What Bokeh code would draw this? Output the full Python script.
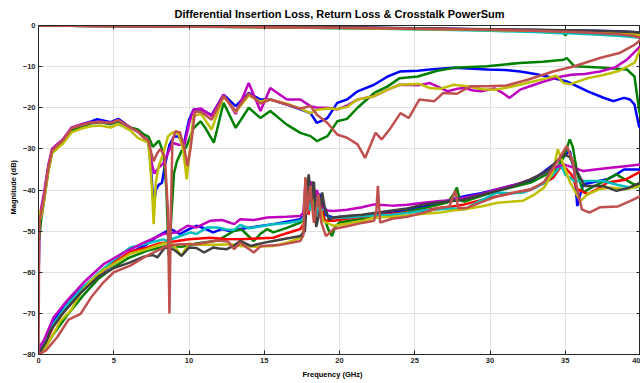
from bokeh.plotting import figure
from bokeh.models import Range1d, LinearAxis, FixedTicker, Title
from bokeh.embed import file_html
from bokeh.resources import INLINE

# ---------------- colours ----------------
C_BLUE = "#0000ff"
C_GREEN = "#008000"
C_RED = "#ff0000"
C_CYAN = "#00bfbf"
C_MAGENTA = "#bf00bf"
C_YELLOW = "#bfbf00"
C_DGRAY = "#404040"
C_IRED = "#c0504d"

x_ticks = [0, 5, 10, 15, 20, 25, 30, 35, 40]
y_ticks = [-80, -70, -60, -50, -40, -30, -20, -10, 0]

# ---------------- insertion loss ----------------
il_freq = [0, 2, 5, 10, 15, 20, 25, 30, 33, 34.8, 35, 35.2, 37, 38.5, 39.5, 40]
il_blue = [0, -0.05, -0.1, -0.2, -0.35, -0.5, -0.7, -0.95, -1.1, -1.2, -1.2, -1.2, -1.3, -1.4, -1.6, -1.8]
il_green = [0, -0.05, -0.12, -0.25, -0.4, -0.6, -0.85, -1.1, -1.3, -1.4, -2.4, -1.5, -1.6, -1.7, -1.9, -2.1]
il_red = [0, -0.05, -0.1, -0.25, -0.4, -0.55, -0.8, -1.0, -1.2, -1.3, -1.3, -1.3, -1.5, -1.7, -2.0, -2.3]
il_cyan = [0, -0.05, -0.12, -0.3, -0.45, -0.65, -0.9, -1.3, -1.6, -1.9, -1.9, -1.9, -2.2, -2.5, -2.8, -3.0]
il_magenta = [0, -0.05, -0.1, -0.2, -0.35, -0.5, -0.75, -1.0, -1.2, -1.3, -1.3, -1.3, -1.5, -1.8, -2.2, -2.6]
il_yellow = [0, -0.05, -0.12, -0.25, -0.45, -0.6, -0.85, -1.1, -1.3, -1.4, -1.4, -1.4, -1.6, -1.8, -2.1, -2.3]
il_dgray = [0, -0.05, -0.1, -0.2, -0.3, -0.45, -0.65, -0.9, -1.05, -1.15, -1.15, -1.15, -1.3, -1.45, -1.6, -1.8]
il_ired = [0, -0.05, -0.12, -0.25, -0.4, -0.55, -0.8, -1.05, -1.3, -1.5, -1.5, -1.5, -1.8, -2.1, -2.5, -3.0]

# ---------------- return loss ----------------
rl_blue_f = [0, 0.05, 0.15, 0.35, 0.65, 0.9, 1.2, 1.6, 2.2, 2.9, 3.5, 3.9, 4.8, 5.3, 6.1, 6.6, 7.0, 7.3,
             7.5, 7.65, 7.8, 8.0, 8.2, 8.4, 8.7, 9.0, 9.3, 9.65, 10.0, 10.3, 10.8, 11.5, 12.3, 13.1, 13.97,
             14.75, 15.4, 16.5, 17.4, 18.07, 18.5, 19.2, 19.85, 20.5, 21.2, 22.3, 23.2, 24.0, 25.2, 26.0,
             27.6, 29.8, 31.0, 32.0, 33.0, 33.8, 35.1, 35.8, 36.5, 37.5, 38.2, 38.9, 39.3, 39.6, 39.9, 40]
rl_blue_db = [-64, -50, -46, -42, -34.6, -30.5, -29.3, -28, -25, -24, -23.3, -22.8, -23.5, -22.7, -24.8, -25.8, -27.2, -28,
              -36, -44, -40, -38.7, -38.3, -34, -29, -27, -27, -28.9, -23, -20.4, -20.4, -21.8, -16.8, -19.6, -16.4,
              -18, -18, -19.2, -20.4, -21.3, -23.7, -22.5, -18.8, -18, -16, -14.4, -12.4, -11.2, -11, -10.7,
              -10.3, -10.7, -10.8, -11.2, -11.8, -12.4, -13.6, -14.8, -16, -17.5, -18.4, -17.6, -18, -19.2, -24.5, -25]

rl_green_f = [0, 0.05, 0.15, 0.35, 0.65, 0.9, 1.2, 1.6, 2.2, 2.9, 3.5, 4.1, 4.8, 5.3, 6.1, 6.6, 7.0, 7.3,
              7.6, 8.0, 8.3, 8.5, 8.65, 8.8, 9.0, 9.2, 9.5, 9.8, 10.3, 10.76, 11.1, 11.65, 12.3, 13.1, 13.97,
              14.75, 15.4, 16.5, 17.4, 18.07, 18.5, 19.2, 19.85, 20.5, 21.2, 22.3, 23.2, 24.0, 25.2, 26.5,
              27.6, 29.8, 32.0, 33.5, 34.9, 35.1, 35.6, 37.6, 39.1, 39.6, 39.9, 40]
rl_green_db = [-52, -52, -48, -43, -35.5, -31, -30, -28.5, -25.5, -24.5, -23.8, -23.5, -24, -23.3, -24.8, -25.3, -26.5, -27,
               -29.5, -28, -31, -40, -56, -48, -36, -33, -30.5, -29.7, -25, -23.3, -25, -28.5, -18.8, -24.9, -20,
               -22.5, -20.8, -24.1, -26.1, -26.9, -28.1, -26.9, -23.3, -22.7, -20, -16.4, -14.8, -12.8, -12.4, -11,
               -10.3, -9.9, -9.1, -8.8, -8.3, -7.9, -9.9, -10.3, -10.7, -12.4, -20.4, -22]

rl_magenta_f = [0, 0.05, 0.15, 0.35, 0.65, 0.9, 1.2, 1.6, 2.2, 2.9, 3.5, 4.1, 4.8, 5.3, 6.1, 6.6, 7.0, 7.3,
                7.55, 7.7, 8.0, 8.3, 8.6, 8.9, 9.3, 9.7, 10.0, 10.3, 10.8, 11.5, 12.3, 13.1, 13.97, 14.75,
                15.4, 16.5, 17.4, 18.07, 18.5, 19.2, 19.85, 20.5, 21.2, 22.3, 23.2, 24.0, 25.3, 26.0, 26.5,
                27.2, 27.8, 28.3, 28.9, 29.4, 30.3, 30.8, 31.3, 32.0, 32.8, 33.6, 34.5, 35.4, 36.3, 37.3,
                38.3, 39.1, 39.6, 40]
rl_magenta_db = [-66, -46, -45, -41, -34, -30, -29, -27.8, -24.8, -24, -23.5, -23.4, -23.7, -23, -24.8, -25.8, -27.2, -28,
                 -34, -36, -34.5, -33.5, -31, -28.5, -29, -29, -24, -20.5, -20.2, -22, -16.8, -21.5, -14, -20.8,
                 -15.2, -18, -18, -19.6, -20, -20, -20.4, -19.5, -18, -17.2, -15.6, -14.4, -14.5, -14, -14.8,
                 -16, -15.4, -15.2, -15.8, -16, -15.3, -16.3, -17.6, -15.6, -14.6, -13.6, -12.6, -12, -11.8, -11.2,
                 -10.2, -8.3, -6.5, -5]

rl_yellow_f = [0, 0.05, 0.15, 0.35, 0.65, 0.9, 1.2, 1.6, 2.2, 2.9, 3.5, 4.1, 4.8, 5.3, 6.1, 6.6, 7.0, 7.3,
               7.55, 7.65, 7.8, 8.0, 8.3, 8.6, 8.9, 9.3, 9.6, 9.85, 10.0, 10.3, 10.8, 11.5, 12.3, 13.1, 13.97,
               14.75, 15.4, 16.5, 17.4, 18.07, 18.5, 19.2, 19.85, 20.5, 21.2, 22.3, 23.2, 24.0, 25.3, 26.0,
               26.7, 27.6, 28.5, 29.5, 30.3, 31.0, 32.0, 33.0, 33.8, 34.4, 34.9, 35.3, 36.5, 37.3, 38.0,
               38.6, 39.3, 39.6, 40]
rl_yellow_db = [-55, -45, -47, -43, -35.5, -31, -30, -28.8, -26, -25, -24.5, -24.3, -24.8, -24, -25.5, -27.3, -28, -28.5,
                -40, -48.3, -38, -34, -31, -27, -26, -26.3, -30, -37.4, -32, -22, -21.5, -25.3, -17.2, -21, -17,
                -18.5, -18, -19, -20.2, -21.3, -20.5, -20.2, -20.3, -19.8, -18, -17.2, -15.6, -14.4, -14.2, -15.2,
                -15.4, -14.4, -14.8, -15.5, -15.6, -15.2, -14.4, -13.5, -12.8, -12.2, -14, -14.3, -12.8, -12.2, -11.6,
                -11, -9.6, -9.1, -5.5]

rl_ired_f = [0, 0.05, 0.15, 0.35, 0.65, 0.9, 1.2, 1.6, 2.2, 2.9, 3.5, 4.1, 4.8, 5.3, 6.1, 6.6, 7.0, 7.3,
             7.5, 7.65, 7.9, 8.1, 8.4, 8.6, 8.7, 8.8, 8.9, 9.1, 9.4, 9.7, 9.9, 10.1, 10.4, 10.8, 11.5, 12.3,
             13.1, 13.97, 14.75, 15.4, 16.5, 17.4, 18.07, 18.5, 19.2, 19.85, 20.5, 21.2, 21.7, 22.4, 22.8,
             23.4, 24.05, 24.6, 25.3, 26.3, 26.9, 27.8, 28.7, 29.8, 31.1, 32.5, 34.2, 35.6, 37.3, 38.6,
             39.6, 40]
rl_ired_db = [-80, -48, -46, -42, -34.6, -30.5, -29.3, -28, -25, -24.2, -23.6, -23.4, -23.7, -23, -24.8, -25.8, -27.2, -28,
              -31, -33, -31, -30, -32, -45, -70, -45, -28, -25.7, -26, -30, -34.2, -30, -21, -21, -22.9, -17.2,
              -20.8, -16.5, -19, -18, -19.2, -20.2, -19.6, -21.7, -23.7, -26.5, -27.3, -28.9, -32.2, -26.1, -27.7,
              -24.9, -21.3, -22.5, -18, -18.4, -16.4, -16.6, -14.8, -14.8, -14.6, -13.2, -11.2, -9.9, -7.9, -6.7,
              -4.7, -3.5]

# ---------------- crosstalk power sum ----------------
xt_blue_f = [0, 0.5, 1.0, 1.7, 2.8, 4.34, 6.1, 7.2, 8.0, 8.8, 9.4, 10.0, 10.5, 11.0, 11.6, 12.2, 12.8, 13.4,
             14.5, 15.6, 16.5, 17.4, 17.7, 17.85, 18.0, 18.2, 18.4, 18.7, 19.0, 19.6, 20.5, 21.5, 22.3, 23.5,
             24.5, 25.6, 26.7, 27.5, 28.3, 29.4, 30.5, 31.6, 32.7, 33.6, 34.5, 35.0, 35.3, 35.6, 35.8, 36.0,
             36.2, 37.0, 37.8, 38.4, 38.9, 40]
xt_blue_db = [-80, -76, -72, -68, -64.1, -59.6, -55.2, -53.2, -51, -49.5, -50.7, -49.5, -48.7, -49.3, -50.3, -49.5, -50.1, -49.5,
              -48.9, -48.3, -47.7, -47.1, -46, -40, -44, -38, -42, -41, -46, -46.7, -46.4, -46.2, -45.9, -45.5,
              -44.7, -44, -43.1, -42.3, -41.5, -40.8, -39.8, -38.8, -37.8, -35.5, -33, -31.5, -30.5, -35.4, -43.9, -41,
              -38.6, -38, -37.4, -36.2, -35, -35]

xt_green_f = [0, 0.5, 1.0, 1.5, 2.0, 3.0, 4.0, 5.0, 6.0, 7.2, 8.5, 9.5, 10.5, 11.9, 12.5, 13.0, 13.5, 13.9,
              14.3, 14.8, 15.2, 15.6, 16.5, 17.4, 17.7, 17.85, 18.0, 18.25, 18.45, 18.7, 19.0, 19.3, 19.5, 19.7,
              20.0, 21.0, 22.3, 23.5, 24.5, 25.6, 26.7, 27.2, 27.6, 27.8, 28.0, 28.3, 29.4, 30.5, 31.6, 32.7,
              33.6, 34.4, 34.9, 35.3, 35.5, 35.8, 36.2, 36.7, 37.5, 38.4, 39.0, 39.5, 40]
xt_green_db = [-80, -78, -75, -72.5, -70, -65.5, -61.5, -58.8, -56.5, -54.8, -53.6, -53.8, -53, -52.3, -51, -49.9, -49.6, -51,
               -52.4, -50.5, -49.5, -50.3, -49.2, -47.9, -46.5, -39, -43, -38, -45, -42, -47, -50, -51.2, -49,
               -47.9, -47.3, -46.7, -46, -45.2, -44.4, -43.5, -43, -41, -39.4, -42.5, -42.8, -41.5, -40.2, -39.2, -38.2,
               -36.5, -35, -32, -27.7, -29.5, -36, -40.6, -39.5, -38, -36.2, -37.5, -38.5, -39]

xt_red_f = [0, 0.5, 1.0, 1.9, 2.8, 3.9, 5.0, 6.1, 7.2, 8.0, 9.0, 10.0, 11.4, 12.4, 13.4, 14.5, 15.6, 16.5,
            17.4, 17.65, 17.8, 17.95, 18.15, 18.4, 18.7, 19.0, 19.6, 20.5, 21.5, 22.3, 23.5, 24.5, 25.6, 26.7,
            27.5, 28.3, 29.4, 30.5, 31.6, 32.7, 33.5, 34.2, 34.8, 35.4, 35.8, 36.5, 37.3, 37.8, 39.0, 40]
xt_red_db = [-80, -77, -73, -68.5, -64.9, -60.8, -57.6, -55, -54, -53, -52.5, -52, -51.6, -51.9, -52, -51.8, -51.6, -50.5,
             -49.5, -48, -41, -46, -39, -44, -42, -47.5, -47.5, -47, -46.5, -46.2, -45.8, -45.5, -45, -44.3,
             -44, -43.5, -42.5, -41.5, -40.7, -39.8, -38.5, -37, -33.8, -36.2, -39.8, -41, -39.5, -38.2, -37.5, -35.5]

xt_cyan_f = [0, 0.5, 1.0, 2.0, 3.0, 3.9, 5.0, 6.1, 7.2, 8.3, 8.55, 9.2, 10.1, 10.5, 11.2, 11.9, 12.5, 13.0,
             13.4, 14.0, 14.5, 15.6, 16.5, 17.4, 17.7, 17.85, 18.05, 18.3, 18.6, 19.0, 19.3, 19.6, 20.5, 21.5,
             22.3, 23.5, 24.5, 25.6, 26.7, 27.5, 28.3, 29.4, 30.5, 31.5, 32.2, 33.0, 33.8, 34.4, 34.7, 35.0,
             35.6, 36.2, 37.5, 38.5, 39.3, 40]
xt_cyan_db = [-80, -76, -72.5, -67.5, -63.5, -60.5, -57, -54, -53, -52, -52.4, -51.5, -50.3, -50.7, -49.1, -49.1, -49.6, -49.7,
              -48.5, -49.3, -49, -48.3, -48, -47.5, -46.5, -40, -45, -40, -46, -44, -47, -46.7, -46.7, -46.4,
              -46.2, -46, -45.6, -45, -44.7, -44.5, -44.7, -42.5, -40.6, -40.8, -40.6, -39.5, -37.8, -35.5, -33.8, -36.2,
              -37.8, -37.8, -37.8, -38.8, -39.4, -39.2]

xt_magenta_f = [0, 0.1, 0.35, 1.0, 1.9, 3.0, 4.34, 5.67, 7.0, 8.3, 9.2, 9.9, 10.5, 11.4, 12.2, 13.0, 13.4, 14.3,
                15.2, 15.6, 16.5, 17.4, 17.6, 17.75, 17.9, 18.1, 18.3, 18.5, 18.8, 19.2, 19.6, 20.5, 21.5, 22.3,
                23.5, 24.5, 25.6, 26.7, 27.5, 28.3, 29.4, 30.5, 31.6, 32.7, 33.4, 34.0, 34.9, 35.5, 36.2, 37.0,
                38.0, 39.0, 40]
xt_magenta_db = [-80, -78, -76.6, -71, -66.9, -62.5, -58, -55.2, -52.8, -50.7, -50.3, -48.7, -49.1, -47.5, -47.3, -48.3, -47.1, -47.3,
                 -46.7, -46.6, -46.5, -46.3, -45.5, -37, -40, -38, -43, -40, -44, -45, -45.1, -44.8, -44.2, -43.5,
                 -43.8, -43.6, -43.1, -42.7, -42.5, -41.9, -41, -39.8, -38.8, -37.4, -36.2, -35, -33.8, -34.5, -35.4, -35,
                 -34.6, -34.2, -33.8]

xt_yellow_f = [0, 0.5, 1.0, 1.46, 2.2, 2.8, 3.5, 4.3, 5.0, 6.1, 7.2, 8.3, 8.9, 9.5, 10.0, 10.5, 11.9, 12.8,
               13.4, 14.5, 15.6, 16.5, 17.4, 17.6, 17.75, 17.9, 18.1, 18.3, 18.6, 18.9, 19.6, 20.5, 21.5, 22.3,
               23.5, 24.5, 25.6, 26.7, 27.5, 28.3, 29.4, 30.5, 31.5, 32.2, 33.0, 33.6, 34.2, 34.5, 34.8, 35.3,
               35.6, 36.0, 36.5, 37.3, 38.0, 39.0, 40]
xt_yellow_db = [-80, -78, -75, -71.8, -69, -65, -62, -59.5, -58, -55.5, -54.4, -53, -53, -56, -53, -53.3, -53.3, -53.2,
                -53.6, -53.8, -53.6, -52.8, -51.6, -50, -37, -42, -39, -45, -42, -47.5, -48.7, -48.2, -47.5, -46.7,
                -46.5, -46.2, -45.8, -45.5, -45, -44.7, -44, -43.1, -42.8, -42.6, -41, -39.4, -35.4, -30.1, -33, -38,
                -40, -42.7, -41, -39.8, -39.4, -39.8, -39]

xt_dgray_f = [0, 0.5, 0.8, 1.5, 2.8, 4.0, 5.0, 6.1, 7.0, 7.6, 7.9, 8.4, 9.0, 9.5, 10.0, 10.5, 11.0, 11.6,
              12.0, 12.5, 13.0, 13.4, 14.1, 15.0, 15.6, 16.5, 17.4, 17.7, 17.95, 18.15, 18.3, 18.45, 18.7, 18.85,
              19.0, 19.3, 19.6, 20.5, 21.5, 22.3, 23.5, 24.5, 25.6, 26.7, 27.5, 28.3, 29.4, 30.5, 31.6, 32.7,
              33.8, 34.9, 35.3, 36.0, 36.3, 37.5, 38.4, 39.2, 40]
xt_dgray_db = [-80, -77, -74.2, -70.5, -65, -61, -59, -57.6, -56.2, -55.8, -56.4, -54, -54.5, -56, -54, -54.1, -55.2, -54,
               -54.2, -54.4, -53.5, -52.4, -53.6, -52.8, -52.4, -51.8, -51.2, -50, -36.2, -43, -38, -49, -45, -40.6,
               -44, -47.2, -46.7, -46.3, -46, -45.6, -45, -44.5, -43.5, -43, -42.7, -42.3, -41.2, -40.2, -39, -37.4,
               -35.4, -31.3, -32, -37, -39, -39, -40.2, -39.5, -38.2]

xt_ired_f = [0, 0.5, 1.24, 2.0, 2.8, 3.5, 4.3, 5.0, 6.1, 7.2, 8.3, 8.6, 9.4, 10.5, 11.9, 12.6, 13.0, 13.4,
             14.3, 14.8, 16.0, 17.4, 17.6, 17.75, 17.85, 18.05, 18.3, 18.6, 18.8, 19.1, 19.6, 20.5, 21.5, 22.3,
             22.45, 22.55, 22.7, 23.5, 24.5, 25.6, 26.5, 27.3, 27.7, 27.9, 28.5, 29.4, 30.5, 31.6, 32.7, 33.6,
             34.5, 35.1, 35.5, 35.8, 36.1, 36.6, 37.3, 38.5, 39.3, 40]
xt_ired_db = [-80, -79, -75.8, -71.5, -70.1, -66.1, -62.5, -60, -58.4, -56, -54, -53.5, -53.2, -53.2, -52.3, -52.5, -54.4, -52.8,
              -55.2, -53.6, -53.4, -52.4, -51, -37, -46, -39, -48, -41, -48, -51.2, -49.5, -48.8, -48, -47.5,
              -45, -39, -47.9, -47, -46.5, -45.5, -44.5, -44, -40.2, -44.5, -44.3, -43, -41.5, -40.6, -40, -38,
              -33, -29.3, -33, -40, -44.7, -45.5, -44.2, -44, -42.7, -41.5]

# ---------------- figure ----------------
p = figure(width=640, height=383, output_backend="svg", toolbar_location=None,
           x_range=Range1d(0, 40), y_range=Range1d(-80, 0),
           title="Differential Insertion Loss, Return Loss & Crosstalk PowerSum",
           min_border_left=38, min_border_right=0, min_border_top=24, min_border_bottom=29)

p.title.align = "center"
p.title.text_font = "Liberation Sans"
p.title.text_font_size = "11px"
p.title.text_font_style = "bold"
p.title.text_color = "#000000"
p.title.standoff = 11

p.background_fill_color = "white"
p.border_fill_color = "white"
p.outline_line_color = "#262626"
p.outline_line_width = 1

p.xaxis.ticker = FixedTicker(ticks=x_ticks)
p.yaxis.ticker = FixedTicker(ticks=y_ticks)
p.xgrid.ticker = FixedTicker(ticks=x_ticks)
p.ygrid.ticker = FixedTicker(ticks=y_ticks)
p.grid.grid_line_color = "#e0e0e0"
p.grid.grid_line_width = 1

for ax in [p.xaxis[0], p.yaxis[0]]:
    ax.major_tick_in = 4
    ax.major_tick_out = 0
    ax.minor_tick_line_color = None
    ax.axis_line_color = "#262626"
    ax.major_tick_line_color = "#262626"
    ax.major_label_text_font = "Liberation Sans"
    ax.major_label_text_font_size = "7.5px"
    ax.major_label_text_font_style = "bold"
    ax.major_label_text_color = "#262626"

p.xaxis.major_label_standoff = 3
p.yaxis.major_label_standoff = 3

right_ax = LinearAxis(ticker=FixedTicker(ticks=y_ticks), major_tick_in=4, major_tick_out=0,
                      minor_tick_line_color=None, major_label_text_font_size="0px",
                      major_label_text_color=None,
                      major_label_standoff=0, axis_line_color="#262626", major_tick_line_color="#262626")
top_ax = LinearAxis(ticker=FixedTicker(ticks=x_ticks), major_tick_in=4, major_tick_out=0,
                    minor_tick_line_color=None, major_label_text_font_size="0px",
                    major_label_text_color=None,
                    major_label_standoff=0, axis_line_color="#262626", major_tick_line_color="#262626")
p.add_layout(right_ax, "right")
p.add_layout(top_ax, "above")

x_title = Title(text="Frequency (GHz)", align="left", offset=264, standoff=4,
                text_font="Liberation Sans", text_font_size="7.5px", text_font_style="bold",
                text_color="#000000")
y_title = Title(text="Magnitude (dB)", align="left", offset=140, standoff=4,
                text_font="Liberation Sans", text_font_size="7.5px", text_font_style="bold",
                text_color="#000000")
p.add_layout(x_title, "below")
p.add_layout(y_title, "left")

LW = 2.5
il_series = [(il_blue, C_BLUE), (il_green, C_GREEN), (il_red, C_RED), (il_cyan, C_CYAN),
             (il_magenta, C_MAGENTA), (il_yellow, C_YELLOW), (il_dgray, C_DGRAY), (il_ired, C_IRED)]
for ys, c in il_series:
    p.line(il_freq, ys, line_color=c, line_width=LW)

xt_series = [(xt_blue_f, xt_blue_db, C_BLUE), (xt_green_f, xt_green_db, C_GREEN),
             (xt_red_f, xt_red_db, C_RED), (xt_cyan_f, xt_cyan_db, C_CYAN),
             (xt_magenta_f, xt_magenta_db, C_MAGENTA), (xt_yellow_f, xt_yellow_db, C_YELLOW),
             (xt_dgray_f, xt_dgray_db, C_DGRAY), (xt_ired_f, xt_ired_db, C_IRED)]
for xs, ys, c in xt_series:
    p.line(xs, ys, line_color=c, line_width=LW)

rl_series = [(rl_blue_f, rl_blue_db, C_BLUE), (rl_green_f, rl_green_db, C_GREEN),
             (rl_magenta_f, rl_magenta_db, C_MAGENTA), (rl_yellow_f, rl_yellow_db, C_YELLOW),
             (rl_ired_f, rl_ired_db, C_IRED)]
for xs, ys, c in rl_series:
    p.line(xs, ys, line_color=c, line_width=LW)

open("out.html", "w").write(file_html(p, INLINE))
